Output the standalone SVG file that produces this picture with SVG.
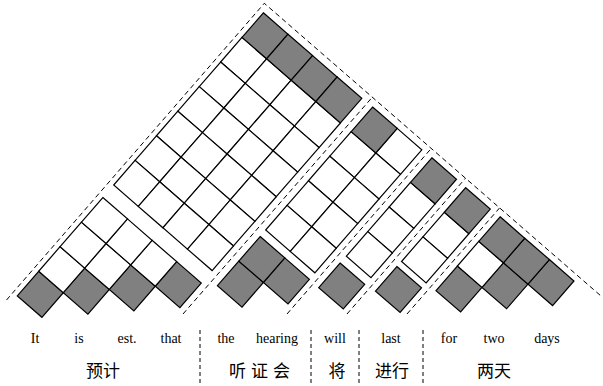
<svg xmlns="http://www.w3.org/2000/svg" xmlns:xlink="http://www.w3.org/1999/xlink" width="603" height="386" viewBox="0 0 603 386">
<style>
.blk{stroke:#000;stroke-width:1.2;stroke-linejoin:miter}
.w{fill:#fff}
.g{fill:#808080}
.dash{fill:none;stroke:#000;stroke-width:1;stroke-dasharray:5 3.5}
.vdash{fill:none;stroke:#000;stroke-width:1;stroke-dasharray:4 3}
.en{font-family:"Liberation Serif","Times New Roman",serif;font-size:14px;fill:#000;text-anchor:middle}
.zh{font-family:"Noto Sans CJK SC","Noto Sans",sans-serif;font-size:17px;fill:#000;text-anchor:middle}
</style>
<defs>
<path id="c" d="M0,-23.05L23.05,0L0,23.05L-23.05,0Z"/>
</defs>
<rect width="603" height="386" fill="#fff"/>

<g id="separators">
<polyline class="dash" points="6.5,300 264.3,3.3 601,296"/>
<line class="dash" x1="183" y1="314" x2="372.3" y2="97.2"/>
<line class="dash" x1="287" y1="314" x2="431.3" y2="148.4"/>
<line class="dash" x1="347" y1="314" x2="465.5" y2="178.2"/>
<line class="dash" x1="407" y1="314" x2="499.6" y2="207.9"/>
<line class="vdash" x1="200" y1="330" x2="200" y2="386"/>
<line class="vdash" x1="311" y1="330" x2="311" y2="386"/>
<line class="vdash" x1="359" y1="330" x2="359" y2="386"/>
<line class="vdash" x1="423" y1="330" x2="423" y2="386"/>
</g>

<g id="g1" class="blk" transform="translate(40.3,294.3) rotate(-4)">
<use href="#c" class="g" x="0" y="0"/>
<use href="#c" class="g" x="46.1" y="0"/>
<use href="#c" class="g" x="92.2" y="0"/>
<use href="#c" class="g" x="138.3" y="0"/>
<use href="#c" class="w" x="23.05" y="-23.05"/>
<use href="#c" class="w" x="69.15" y="-23.05"/>
<use href="#c" class="w" x="115.25" y="-23.05"/>
<use href="#c" class="w" x="46.1" y="-46.1"/>
<use href="#c" class="w" x="92.2" y="-46.1"/>
<use href="#c" class="w" x="69.15" y="-69.15"/>
</g>

<g id="b1" class="blk" transform="translate(265,35.8) rotate(-4)">
<use href="#c" class="w" x="-23.05" y="23.05"/>
<use href="#c" class="w" x="0" y="46.1"/>
<use href="#c" class="w" x="23.05" y="69.15"/>
<use href="#c" class="w" x="46.1" y="92.2"/>
<use href="#c" class="w" x="-46.1" y="46.1"/>
<use href="#c" class="w" x="-23.05" y="69.15"/>
<use href="#c" class="w" x="0" y="92.2"/>
<use href="#c" class="w" x="23.05" y="115.25"/>
<use href="#c" class="w" x="-69.15" y="69.15"/>
<use href="#c" class="w" x="-46.1" y="92.2"/>
<use href="#c" class="w" x="-23.05" y="115.25"/>
<use href="#c" class="w" x="0" y="138.3"/>
<use href="#c" class="w" x="-92.2" y="92.2"/>
<use href="#c" class="w" x="-69.15" y="115.25"/>
<use href="#c" class="w" x="-46.1" y="138.3"/>
<use href="#c" class="w" x="-23.05" y="161.35"/>
<use href="#c" class="w" x="-115.25" y="115.25"/>
<use href="#c" class="w" x="-92.2" y="138.3"/>
<use href="#c" class="w" x="-69.15" y="161.35"/>
<use href="#c" class="w" x="-46.1" y="184.4"/>
<use href="#c" class="w" x="-138.3" y="138.3"/>
<use href="#c" class="w" x="-115.25" y="161.35"/>
<use href="#c" class="w" x="-92.2" y="184.4"/>
<use href="#c" class="w" x="-69.15" y="207.45"/>
<use href="#c" class="g" x="0" y="0"/>
<use href="#c" class="g" x="23.05" y="23.05"/>
<use href="#c" class="g" x="46.1" y="46.1"/>
<use href="#c" class="g" x="69.15" y="69.15"/>
</g>

<g id="g2" class="blk" transform="translate(240.4,284.1) rotate(-4)">
<use href="#c" class="g" x="0" y="0"/>
<use href="#c" class="g" x="46.1" y="0"/>
<use href="#c" class="g" x="23.05" y="-23.05"/>
</g>

<g id="b2" class="blk" transform="translate(374.2,130) rotate(-4)">
<use href="#c" class="w" x="23.05" y="23.05"/>
<use href="#c" class="w" x="-23.05" y="23.05"/>
<use href="#c" class="w" x="0" y="46.1"/>
<use href="#c" class="w" x="-46.1" y="46.1"/>
<use href="#c" class="w" x="-23.05" y="69.15"/>
<use href="#c" class="w" x="-69.15" y="69.15"/>
<use href="#c" class="w" x="-46.1" y="92.2"/>
<use href="#c" class="w" x="-92.2" y="92.2"/>
<use href="#c" class="w" x="-69.15" y="115.25"/>
<use href="#c" class="g" x="0" y="0"/>
</g>

<g id="g3" class="blk" transform="translate(341.7,286) rotate(-4)">
<use href="#c" class="g" x="0" y="0"/>
</g>

<g id="b3" class="blk" transform="translate(433.5,180.8) rotate(-4)">
<use href="#c" class="w" x="-23.05" y="23.05"/>
<use href="#c" class="w" x="-46.1" y="46.1"/>
<use href="#c" class="w" x="-69.15" y="69.15"/>
<use href="#c" class="g" x="0" y="0"/>
</g>

<g id="g4" class="blk" transform="translate(398.5,289.5) rotate(-4)">
<use href="#c" class="g" x="0" y="0"/>
</g>

<g id="b4" class="blk" transform="translate(467.3,210.7) rotate(-4)">
<use href="#c" class="w" x="-23.05" y="23.05"/>
<use href="#c" class="w" x="-46.1" y="46.1"/>
<use href="#c" class="g" x="0" y="0"/>
</g>

<g id="g5" class="blk" transform="translate(459,289) rotate(-4)">
<use href="#c" class="g" x="0" y="0"/>
<use href="#c" class="g" x="46.1" y="0"/>
<use href="#c" class="g" x="92.2" y="0"/>
<use href="#c" class="w" x="23.05" y="-23.05"/>
<use href="#c" class="g" x="69.15" y="-23.05"/>
<use href="#c" class="g" x="46.1" y="-46.1"/>
</g>

<g id="words">
<text class="en" x="35" y="343">It</text>
<text class="en" x="79" y="343">is</text>
<text class="en" x="127" y="343">est.</text>
<text class="en" x="171" y="343">that</text>
<text class="en" x="226" y="343">the</text>
<text class="en" x="277" y="343">hearing</text>
<text class="en" x="335" y="343">will</text>
<text class="en" x="391" y="343">last</text>
<text class="en" x="449" y="343">for</text>
<text class="en" x="494" y="343">two</text>
<text class="en" x="547" y="343">days</text>
</g>
<g id="chinese">
<text class="zh" x="103" y="377">预计</text>
<text class="zh" x="262" y="377" letter-spacing="5">听证会</text>
<text class="zh" x="337" y="377">将</text>
<text class="zh" x="392" y="377">进行</text>
<text class="zh" x="494" y="377">两天</text>
</g>
</svg>
